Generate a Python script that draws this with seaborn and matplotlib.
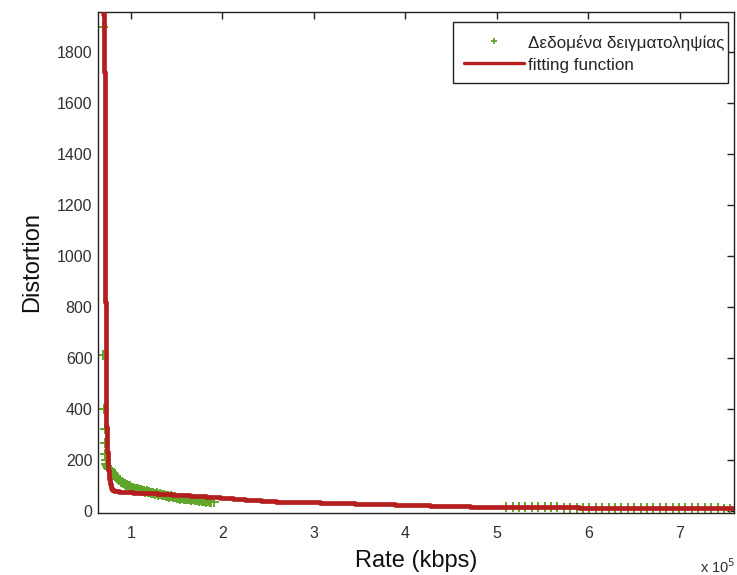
import numpy as np
import pandas as pd
import matplotlib
matplotlib.use("Agg")
from matplotlib import pyplot as plt
from matplotlib.lines import Line2D
from matplotlib.patches import Rectangle
import seaborn as sns

# rate in units of 1e5 kbps
sample_rate = [0.695, 0.700, 0.705, 0.712, 0.716, 0.720, 0.726, 0.732, 0.740, 0.750,
               0.760, 0.770, 0.780, 0.790, 0.800, 0.810, 0.820, 0.830, 0.840, 0.850,
               0.860, 0.870, 0.880, 0.890, 0.900, 0.915, 0.930, 0.945, 0.960, 0.975,
               0.990, 1.005, 1.020, 1.035, 1.050, 1.065, 1.080, 1.095, 1.110, 1.125,
               1.140, 1.155, 1.170, 1.185, 1.200, 1.220, 1.240, 1.260, 1.280, 1.300,
               1.320, 1.340, 1.360, 1.380, 1.400, 1.420, 1.440, 1.460, 1.480, 1.500,
               1.520, 1.540, 1.560, 1.580, 1.600, 1.620, 1.640, 1.660, 1.680, 1.700,
               1.720, 1.740, 1.760, 1.780, 1.800, 1.820, 1.840, 1.860, 1.880, 1.910,
               5.10, 5.17, 5.24, 5.31, 5.38, 5.45, 5.52, 5.59, 5.66, 5.73,
               5.80, 5.87, 5.94, 6.01, 6.08, 6.15, 6.22, 6.29, 6.36, 6.43,
               6.50, 6.57, 6.64, 6.71, 6.78, 6.85, 6.92, 6.99, 7.06, 7.13,
               7.20, 7.27, 7.34, 7.41, 7.48, 7.55]
sample_dist = [1900, 610, 400, 320, 265, 225, 200, 185, 175, 170,
               166, 163, 160, 152, 150, 144, 142, 136, 133, 128,
               126, 121, 120, 115, 114, 108, 107, 101, 100, 97,
               96, 91, 92, 87, 88, 84, 85, 81, 83, 78,
               80, 76, 77, 73, 75, 70, 72, 67, 69, 64,
               66, 61, 63, 58, 60, 55, 57, 53, 54, 50,
               52, 48, 50, 46, 48, 45, 47, 43, 45, 42,
               43, 40, 42, 38, 40, 37, 38, 35, 36, 35,
               15, 15, 15, 15, 14, 14, 14, 14, 14, 13,
               13, 13, 13, 13, 13, 12, 12, 12, 12, 12,
               12, 11, 11, 11, 11, 11, 11, 10, 10, 10,
               10, 10, 10, 10, 9, 9]

fit_rate = [0.700, 0.706, 0.712, 0.718, 0.724, 0.730, 0.738, 0.746, 0.756, 0.766,
            0.778, 0.792, 0.810, 0.870, 0.950, 1.02, 1.15, 1.28, 1.45, 1.65,
            1.82, 1.97, 2.12, 2.25, 2.42, 2.59, 2.81, 3.07, 3.28, 3.45,
            3.58, 3.89, 4.07, 4.27, 4.50, 4.70, 5.25, 5.90, 6.60, 7.20,
            7.70]
fit_dist = [1950, 1720, 1250, 820, 500, 330, 230, 160, 125, 105,
            92, 84, 79, 76, 74, 72, 69, 66, 62, 58,
            54, 50, 46, 43, 39, 36, 34, 33, 30, 28,
            26, 24, 23, 21, 19, 17, 14, 13, 12, 10,
            9]

x_ticks = [1, 2, 3, 4, 5, 6, 7]
y_ticks = [0, 200, 400, 600, 800, 1000, 1200, 1400, 1600, 1800]

samples = pd.DataFrame({"rate": sample_rate, "dist": sample_dist})
fit = pd.DataFrame({"rate": fit_rate, "dist": fit_dist})

sns.set_theme(style="white")
plt.rcParams['font.family'] = ['Liberation Sans', 'DejaVu Sans']

green = '#5fa52a'
red = '#b41e1e'

fig = plt.figure(figsize=(7.37, 5.75), dpi=100)
ax = fig.add_axes([98 / 737, 62 / 575, 636 / 737, 501 / 575])

sns.scatterplot(x="rate", y="dist", data=samples, marker='+', s=50, linewidth=1.4,
                color=green, ax=ax, zorder=2, legend=False)
sns.lineplot(x="rate", y="dist", data=fit, drawstyle='steps-post', color=red,
             linewidth=3.4, ax=ax, zorder=3, legend=False)

ax.set_xlim(0.64, 7.59)
ax.set_ylim(-8, 1957)
ax.set_xticks(x_ticks)
ax.set_xticklabels([str(t) for t in x_ticks])
ax.set_yticks(y_ticks)
ax.set_yticklabels([str(t) for t in y_ticks])

for s in ax.spines.values():
    s.set_color('#222222')
    s.set_linewidth(1.0)
    s.set_visible(True)
ax.tick_params(direction='in', length=5, width=1, color='#222222', top=True, right=True,
               labelsize=11.5, labelcolor='#303030')
ax.tick_params(axis='x', pad=9)
ax.tick_params(axis='y', pad=4)

ax.set_xlabel("Rate (kbps)", fontsize=17, labelpad=7, color='#111111')
ax.set_ylabel("Distortion", fontsize=17, labelpad=10, color='#111111')
fig.text(735 / 737, 1 - 567 / 575, "x 10$^5$", ha='right', va='center', fontsize=10.5,
         color='#303030')

# legend box drawn separately (matlab-like padding)
box = Rectangle((0.558, 0.858), 0.991 - 0.558, 0.98 - 0.858, transform=ax.transAxes,
                facecolor='white', edgecolor='#222222', linewidth=1.0, zorder=5)
ax.add_patch(box)

handles = [Line2D([], [], marker='+', color=green, linestyle='none', markersize=5,
                  markeredgewidth=1.3),
           Line2D([], [], color=red, linewidth=2.4)]
leg = ax.legend(handles, ["Δεδομένα δειγματοληψίας", "fitting function"],
                loc='upper left', bbox_to_anchor=(0.5755, 0.955), borderaxespad=0,
                fontsize=12.3, handlelength=3.5, handletextpad=0.25, labelspacing=0.32,
                handleheight=1.0, borderpad=0, frameon=False)
leg.set_zorder(6)

fig.savefig("out.png", dpi=100)
